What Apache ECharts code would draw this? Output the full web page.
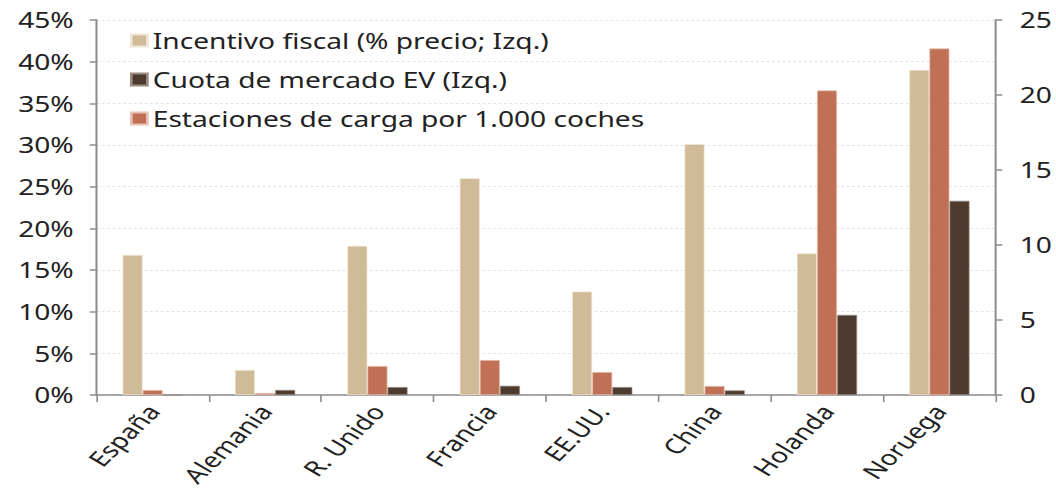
<!DOCTYPE html>
<html>
<head>
<meta charset="utf-8">
<script src="https://cdn.jsdelivr.net/npm/echarts@6/dist/echarts.min.js"></script>
<style>
  html, body { margin: 0; padding: 0; background: #fff; overflow: hidden; }
  /* The chart is laid out narrower and stretched horizontally to the full width */
  #chart { width: 788px; height: 495px; transform: scaleX(1.34); transform-origin: 0 0; }
</style>
</head>
<body>
<div id="chart"></div>
<script>
// Countries on the category axis
const countries = ['España', 'Alemania', 'R. Unido', 'Francia', 'EE.UU.', 'China', 'Holanda', 'Noruega'];

// Left axis (%): tax incentive as share of price
const incentivoFiscal = [16.8, 3.0, 17.9, 26.0, 12.4, 30.1, 17.0, 39.0];
// Left axis (%): EV market share
const cuotaMercado = [0.05, 0.6, 0.95, 1.1, 0.95, 0.55, 9.6, 23.3];
// Right axis: charging stations per 1,000 cars
const estacionesCarga = [0.33, 0.13, 1.93, 2.33, 1.53, 0.6, 20.3, 23.1];

const seriesNames = [
  'Incentivo fiscal (% precio; Izq.)',
  'Cuota de mercado EV (Izq.)',
  'Estaciones de carga por 1.000 coches'
];

const colors = { tan: '#CFBB98', dark: '#4E3B2F', terra: '#C07055' };
const FONT = 'Noto Sans';
const axisGrey = '#8c8c8c';

const chart = echarts.init(document.getElementById('chart'), null, { renderer: 'svg' });
chart.setOption({
  animation: false,
  textStyle: { fontFamily: FONT },
  grid: { left: 72, right: 45, top: 20, bottom: 100 },
  legend: {
    data: [
      { name: seriesNames[0], itemStyle: { color: colors.tan } },
      { name: seriesNames[1], itemStyle: { color: colors.dark } },
      { name: seriesNames[2], itemStyle: { color: colors.terra } }
    ],
    orient: 'vertical',
    left: 92,
    top: 25,
    itemWidth: 12,
    itemHeight: 12,
    itemGap: 18,
    icon: 'rect',
    textStyle: { fontFamily: FONT, fontSize: 21, color: '#222', padding: [0, 0, 0, -1] }
  },
  xAxis: {
    type: 'category',
    data: countries,
    axisLine: { lineStyle: { color: axisGrey, width: 1.5 } },
    axisTick: { show: true, length: 7, lineStyle: { color: axisGrey, width: 1.2 } },
    axisLabel: {
      rotate: 52,
      fontSize: 21,
      color: '#222',
      margin: 12,
      fontFamily: FONT
    }
  },
  yAxis: [
    {
      type: 'value',
      min: 0, max: 45, interval: 5,
      position: 'left',
      axisLine: { show: true, lineStyle: { color: axisGrey, width: 1.5 } },
      axisTick: { show: true, length: 5, lineStyle: { color: axisGrey, width: 1.5 } },
      axisLabel: { formatter: v => v + '%', fontSize: 21, color: '#222', margin: 17, fontFamily: FONT },
      splitLine: { show: true, lineStyle: { color: '#e2e2e2', type: [2, 2], width: 1 } }
    },
    {
      type: 'value',
      min: 0, max: 25, interval: 5,
      position: 'right',
      axisLine: { show: true, lineStyle: { color: axisGrey, width: 1.5 } },
      axisTick: { show: true, length: 5, lineStyle: { color: axisGrey, width: 1.5 } },
      axisLabel: { fontSize: 21, color: '#222', margin: 18, fontFamily: FONT },
      splitLine: { show: false }
    }
  ],
  series: [
    {
      name: seriesNames[0], type: 'bar', yAxisIndex: 0,
      data: incentivoFiscal, barWidth: 15, barGap: '0%',
      itemStyle: { color: colors.tan, borderColor: '#efe6d6', borderWidth: 0.6 }
    },
    {
      name: seriesNames[2], type: 'bar', yAxisIndex: 1,
      data: estacionesCarga, barWidth: 15, barGap: '0%',
      itemStyle: { color: colors.terra, borderColor: '#e8c2b4', borderWidth: 0.6 }
    },
    {
      name: seriesNames[1], type: 'bar', yAxisIndex: 0,
      data: cuotaMercado, barWidth: 15, barGap: '0%',
      itemStyle: { color: colors.dark, borderColor: '#9a8c82', borderWidth: 0.6 }
    }
  ]
});
</script>
</body>
</html>
